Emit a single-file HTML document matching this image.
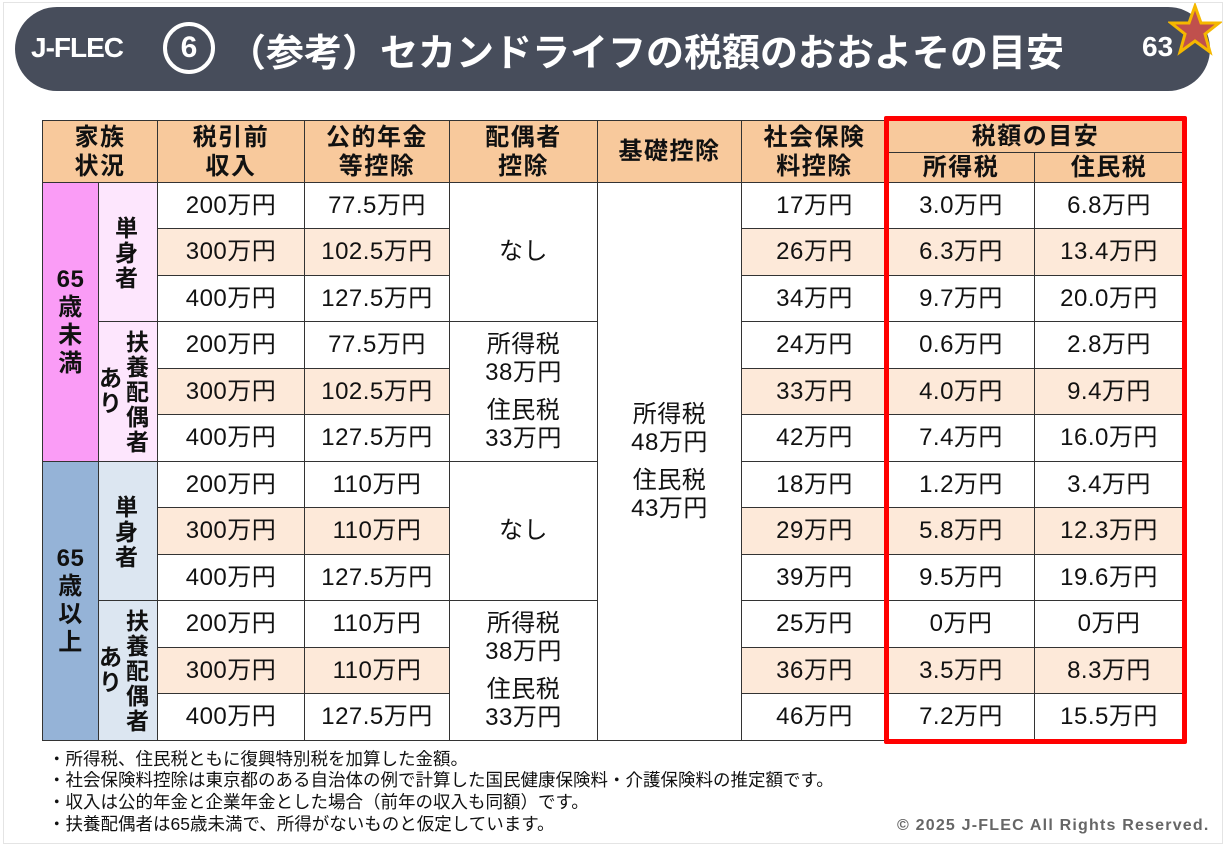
<!DOCTYPE html>
<html><head><meta charset="utf-8"><style>
*{margin:0;padding:0;box-sizing:border-box}
body{width:1226px;height:846px;background:#fff;position:relative;overflow:hidden;font-family:"Liberation Sans","Noto Sans CJK JP",sans-serif;color:#111}
.frame{position:absolute;left:3px;top:2px;width:1220px;height:842px;border:1px solid #e4e4e4}
.bar{position:absolute;left:15px;top:7px;width:1195px;height:84px;background:#474d5b;border-radius:42px}
.jf{position:absolute;left:31px;top:32px;color:#fff;font-weight:bold;font-size:28px;letter-spacing:-1px}
.circ{position:absolute;left:163px;top:22px;width:52px;height:52px;border:4px solid #fff;border-radius:50%;color:#fff;font-weight:bold;font-size:30px;text-align:center;line-height:44px}
.ttl{position:absolute;left:228px;top:22px;color:#fff;font-weight:bold;font-size:38px;white-space:nowrap}
.pg{position:absolute;left:1142px;top:31px;color:#fff;font-weight:bold;font-size:28px}
table{position:absolute;left:42px;top:120px;border-collapse:collapse;table-layout:fixed}
td{border:1.5px solid #333;text-align:center;font-size:24px;letter-spacing:0.5px;line-height:28px;padding:0;background:#fff}
.h{background:#f8c99c;font-weight:bold;letter-spacing:1.5px;line-height:29px}
.p{background:#fde9d9}
.pk{background:#fa9cf6;font-weight:bold;vertical-align:middle}
.lpk{background:#fde6fd;font-weight:bold;position:relative}
.bl{background:#95b3d7;font-weight:bold}
.lbl{background:#dce6f1;font-weight:bold;position:relative}
.red{position:absolute;left:884px;top:116px;width:303px;height:628px;border:5px solid #ff0000;border-radius:2px}
.note{position:absolute;left:48px;font-size:17.5px;line-height:19px;white-space:nowrap}
.copy{position:absolute;left:897px;top:817px;font-size:16px;letter-spacing:1.2px;font-weight:bold;color:#666;white-space:nowrap}
.v{position:absolute;line-height:25px;font-size:23px}
</style></head><body>
<div class="frame"></div>
<div class="bar"></div>
<div class="jf">J-FLEC</div>
<div class="circ">6</div>
<div class="ttl">（参考）セカンドライフの税額のおおよその目安</div>
<div class="pg">63</div>
<svg style="position:absolute;left:1168px;top:3px" width="54" height="54" viewBox="0 0 54 54"><polygon points="27,3 33,20 51,20 37,31 42,49 27,38 12,49 17,31 3,20 21,20" fill="#c0504d" stroke="#f5b800" stroke-width="3"/></svg>
<table>
<colgroup><col style="width:56px"><col style="width:59px"><col style="width:147px"><col style="width:145px"><col style="width:148px"><col style="width:144px"><col style="width:146px"><col style="width:147px"><col style="width:149px"></colgroup>
<tr style="height:32px"><td class="h" colspan="2" rowspan="2">家族<br>状況</td><td class="h" rowspan="2">税引前<br>収入</td><td class="h" rowspan="2">公的年金<br>等控除</td><td class="h" rowspan="2">配偶者<br>控除</td><td class="h" rowspan="2">基礎控除</td><td class="h" rowspan="2">社会保険<br>料控除</td><td class="h" colspan="2">税額の目安</td></tr>
<tr style="height:30px"><td class="h">所得税</td><td class="h">住民税</td></tr>

<tr style="height:46px"><td class="pk" rowspan="6">65<br>歳<br>未<br>満</td><td class="lpk" rowspan="3"><div class="v" style="left:16px;top:33px">単<br>身<br>者</div></td><td>200万円</td><td>77.5万円</td><td rowspan="3">なし</td><td rowspan="12">所得税<br>48万円<br><div style="height:10px"></div>住民税<br>43万円</td><td>17万円</td><td>3.0万円</td><td>6.8万円</td></tr>
<tr style="height:47px"><td class="p">300万円</td><td class="p">102.5万円</td><td class="p">26万円</td><td class="p">6.3万円</td><td class="p">13.4万円</td></tr>
<tr style="height:46px"><td>400万円</td><td>127.5万円</td><td>34万円</td><td>9.7万円</td><td>20.0万円</td></tr>
<tr style="height:47px"><td class="lpk" rowspan="3"><div class="v" style="left:27px;top:8px">扶<br>養<br>配<br>偶<br>者</div><div class="v" style="left:0px;top:44px">あ<br>り</div></td><td>200万円</td><td>77.5万円</td><td rowspan="3">所得税<br>38万円<br><div style="height:10px"></div>住民税<br>33万円</td><td>24万円</td><td>0.6万円</td><td>2.8万円</td></tr>
<tr style="height:46px"><td class="p">300万円</td><td class="p">102.5万円</td><td class="p">33万円</td><td class="p">4.0万円</td><td class="p">9.4万円</td></tr>
<tr style="height:47px"><td>400万円</td><td>127.5万円</td><td>42万円</td><td>7.4万円</td><td>16.0万円</td></tr>

<tr style="height:46px"><td class="bl" rowspan="6">65<br>歳<br>以<br>上</td><td class="lbl" rowspan="3"><div class="v" style="left:16px;top:33px">単<br>身<br>者</div></td><td>200万円</td><td>110万円</td><td rowspan="3">なし</td><td>18万円</td><td>1.2万円</td><td>3.4万円</td></tr>
<tr style="height:47px"><td class="p">300万円</td><td class="p">110万円</td><td class="p">29万円</td><td class="p">5.8万円</td><td class="p">12.3万円</td></tr>
<tr style="height:46px"><td>400万円</td><td>127.5万円</td><td>39万円</td><td>9.5万円</td><td>19.6万円</td></tr>
<tr style="height:47px"><td class="lbl" rowspan="3"><div class="v" style="left:27px;top:8px">扶<br>養<br>配<br>偶<br>者</div><div class="v" style="left:0px;top:44px">あ<br>り</div></td><td>200万円</td><td>110万円</td><td rowspan="3">所得税<br>38万円<br><div style="height:10px"></div>住民税<br>33万円</td><td>25万円</td><td>0万円</td><td>0万円</td></tr>
<tr style="height:46px"><td class="p">300万円</td><td class="p">110万円</td><td class="p">36万円</td><td class="p">3.5万円</td><td class="p">8.3万円</td></tr>
<tr style="height:47px"><td>400万円</td><td>127.5万円</td><td>46万円</td><td>7.2万円</td><td>15.5万円</td></tr>
</table>
<div class="red"></div>
<div class="note" style="top:750px">・所得税、住民税ともに復興特別税を加算した金額。</div>
<div class="note" style="top:771px">・社会保険料控除は東京都のある自治体の例で計算した国民健康保険料・介護保険料の推定額です。</div>
<div class="note" style="top:793px">・収入は公的年金と企業年金とした場合（前年の収入も同額）です。</div>
<div class="note" style="top:815px">・扶養配偶者は65歳未満で、所得がないものと仮定しています。</div>
<div class="copy">© 2025 J-FLEC All Rights Reserved.</div>
</body></html>
